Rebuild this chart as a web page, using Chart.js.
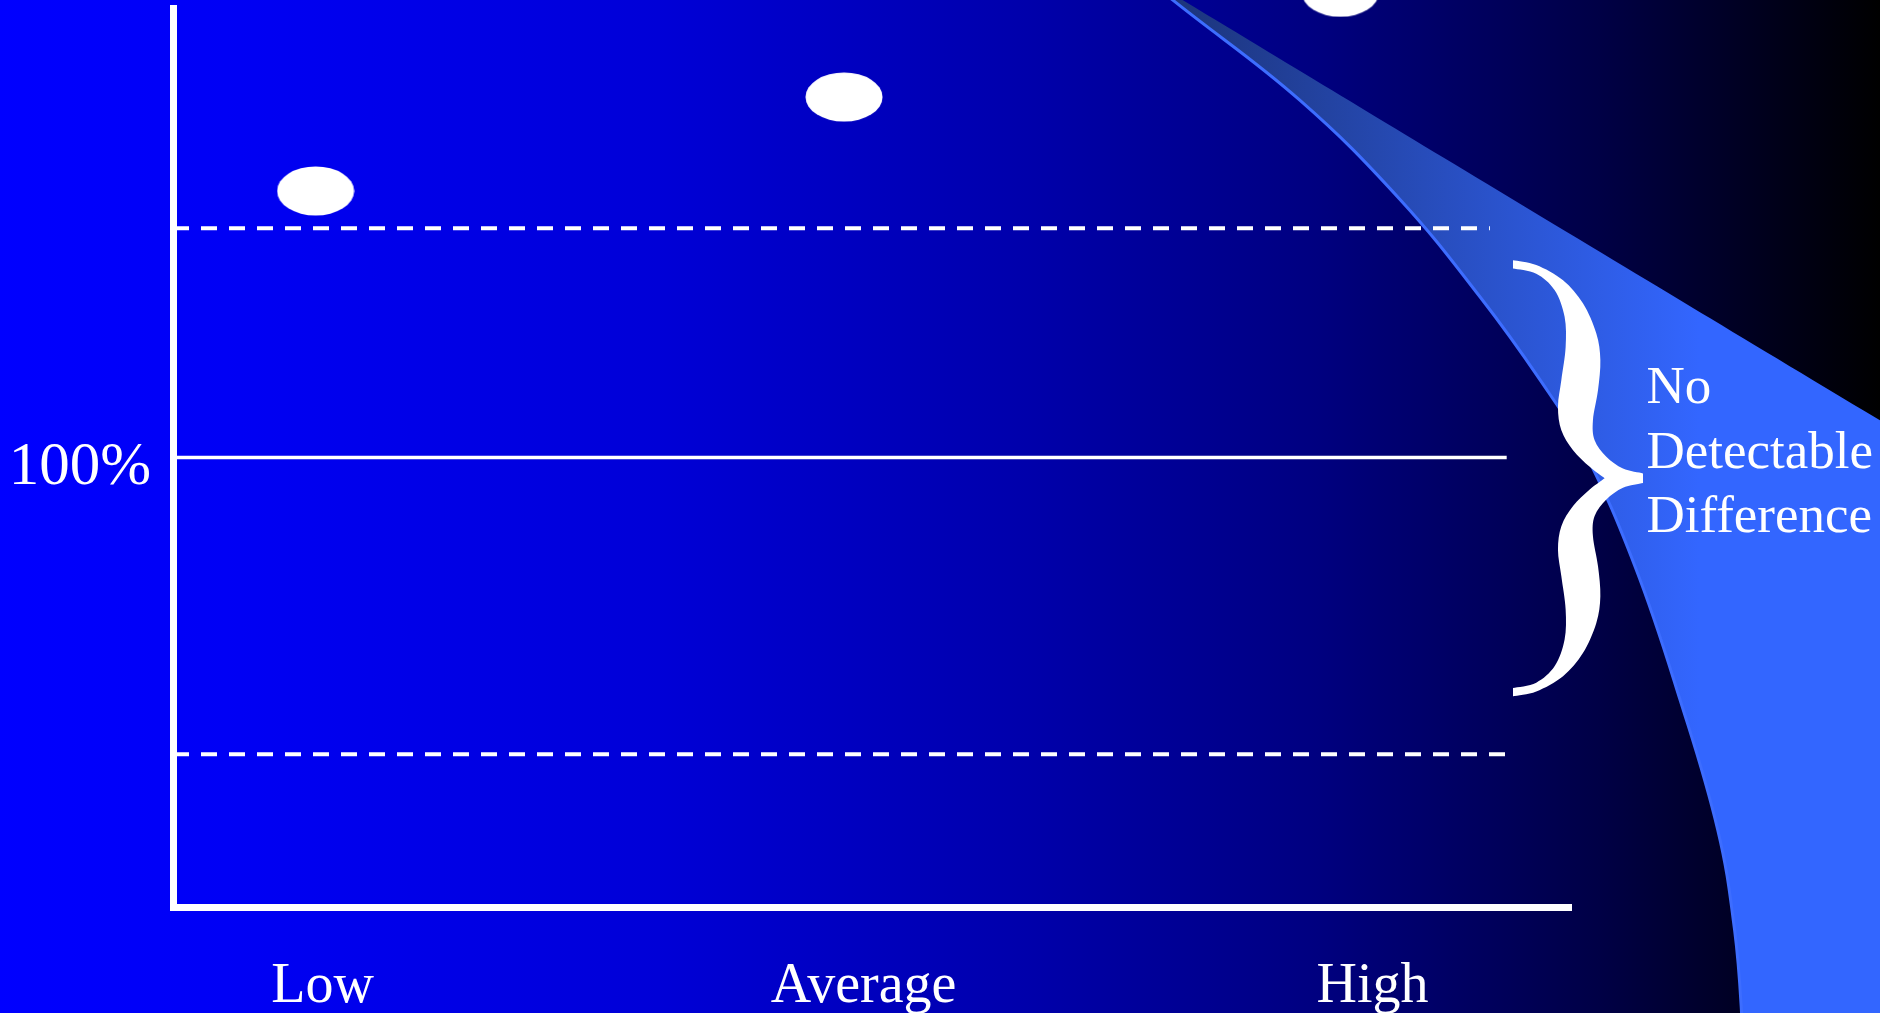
<!DOCTYPE html>
<html>
<head>
<meta charset="utf-8">
<title>No Detectable Difference</title>
<script src="https://cdn.jsdelivr.net/npm/chart.js@4.4.1/dist/chart.umd.min.js"></script>
<style>
  html, body { margin: 0; padding: 0; background: #000; overflow: hidden; }
  #wrap { width: 1880px; height: 1013px; position: relative; }
</style>
</head>
<body>
<div id="wrap"><canvas id="gapChart"></canvas></div>
<script>
const SERIF = '"Liberation Serif", "Times New Roman", serif';

// x axis: categories and where their labels sit
const categories = ['Low', 'Average', 'High'];
const categoryTicks = [1.07, 4.94, 8.58];

// the three scores (white dots)
const scoreX = [1.02, 4.80, 8.35];
const scoreY = [159.3, 180.2, 203.5];

// reference level (100%) and the two dashed limits
const referenceLevel = 100;
const upperLimit = 151;
const lowerLimit = 34;
const upperLimitEnd = 9.42;
const referenceEnd = 9.54;
const lowerLimitEnd = 9.54;

// the light beam: curved left edge, top to bottom ...
const curveX = [6.99, 7.15, 8.06, 8.78, 9.35, 9.78, 10.09, 10.46, 10.78, 11.05, 11.17, 11.22, 11.24];
const curveY = [206.1, 201.8, 179.5, 157.3, 135.7, 117.2, 101.7, 75.6, 46.1, 17.1, -5.1, -23.6, -42.9];
// ... and its straight right edge, bottom-right back to the top
const edgeX = [14.5, 14.5, 13.07, 12.21, 9.49, 7.22];
const edgeY = [-42.9, 65.5, 92.3, 108.3, 159.2, 201.8];

// brace + note
const braceX = [9.585, 10.515];
const braceY = [143.9, 46.9];
const noteX = 10.54;
const noteLines = ['No', 'Detectable', 'Difference'];
const noteY = [112.1, 97.6, 83.5];

// outline of the upper half of the brace, in its own 0..1 box
const braceRight = [[0, 0], [0.179, 0.011], [0.385, 0.046], [0.538, 0.099], [0.641, 0.168], [0.672, 0.229],
    [0.654, 0.298], [0.615, 0.367], [0.628, 0.413], [0.718, 0.451], [0.846, 0.478], [1, 0.489]];
const braceLeft = [[0, 0.019], [0.179, 0.031], [0.321, 0.069], [0.397, 0.130], [0.405, 0.199], [0.372, 0.275],
    [0.346, 0.336], [0.372, 0.390], [0.462, 0.436], [0.590, 0.474], [0.705, 0.5]];

const toPoints = (xs, ys) => xs.map((x, i) => ({ x: x, y: ys[i] }));

const beamPoints = toPoints(curveX, curveY).concat(toPoints(edgeX, edgeY));
const curvePoints = toPoints(curveX, curveY).reverse();

function ellipseDot(w, h) {
    const c = document.createElement('canvas');
    c.width = w;
    c.height = h;
    const g = c.getContext('2d');
    g.fillStyle = '#ffffff';
    g.beginPath();
    g.ellipse(w / 2, h / 2, w / 2 - 0.5, h / 2 - 0.5, 0, 0, Math.PI * 2);
    g.fill();
    return c;
}

function beamFill(context) {
    const chart = context.chart;
    const x = chart.scales.x;
    if (!chart.chartArea || !x) return '#3366ff';
    const g = chart.ctx.createLinearGradient(x.getPixelForValue(7.13), 0, x.getPixelForValue(10.92), 0);
    g.addColorStop(0, 'rgb(28,52,122)');
    g.addColorStop(1, 'rgb(51,102,255)');
    return g;
}

function hLine(level, end) {
    return [{ x: 0, y: level }, { x: end, y: level }];
}

// smooth run through a list of points (catmull-rom as beziers)
function smoothRun(ctx, pts) {
    for (let i = 0; i < pts.length - 1; i++) {
        const p0 = pts[Math.max(i - 1, 0)], p1 = pts[i], p2 = pts[i + 1], p3 = pts[Math.min(i + 2, pts.length - 1)];
        ctx.bezierCurveTo(
            p1[0] + (p2[0] - p0[0]) / 6, p1[1] + (p2[1] - p0[1]) / 6,
            p2[0] - (p3[0] - p1[0]) / 6, p2[1] - (p3[1] - p1[1]) / 6,
            p2[0], p2[1]);
    }
}

function drawBrace(ctx, x0, y0, x1, y1) {
    const map = (p) => [x0 + p[0] * (x1 - x0), y0 + p[1] * (y1 - y0)];
    const flip = (p) => [p[0], 1 - p[1]];
    const rightTop = braceRight.map(map);
    const rightBottom = braceRight.map(flip).reverse().map(map);
    const leftBottom = braceLeft.map(flip).map(map);
    const leftTop = braceLeft.slice().reverse().map(map);
    ctx.beginPath();
    ctx.moveTo(rightTop[0][0], rightTop[0][1]);
    smoothRun(ctx, rightTop);
    ctx.lineTo(rightBottom[0][0], rightBottom[0][1]);
    smoothRun(ctx, rightBottom);
    ctx.lineTo(leftBottom[0][0], leftBottom[0][1]);
    smoothRun(ctx, leftBottom);
    smoothRun(ctx, leftTop);
    ctx.closePath();
    ctx.fill();
}

// slide background, unclipped beam and the text annotations
const slidePlugin = {
    id: 'slide',
    beforeDraw(chart) {
        const { ctx, width, height } = chart;
        const g = ctx.createLinearGradient(0, 0, width, 0);
        g.addColorStop(0, 'rgb(0,0,255)');
        g.addColorStop(0.12, 'rgb(0,0,245)');
        g.addColorStop(0.35, 'rgb(0,0,215)');
        g.addColorStop(0.55, 'rgb(0,0,170)');
        g.addColorStop(0.7, 'rgb(0,0,128)');
        g.addColorStop(0.85, 'rgb(0,0,70)');
        g.addColorStop(1, 'rgb(0,0,0)');
        ctx.save();
        ctx.fillStyle = g;
        ctx.fillRect(0, 0, width, height);
        ctx.restore();
    },
    beforeDatasetsDraw(chart) {
        // the beam runs off the plot area, so let it fill the whole canvas
        chart.$realArea = chart.chartArea;
        chart.chartArea = { left: -300, top: -300, right: chart.width + 300, bottom: chart.height + 300,
                            width: chart.width + 600, height: chart.height + 600 };
    },
    afterDatasetsDraw(chart) {
        chart.chartArea = chart.$realArea;
    },
    afterDraw(chart) {
        const { ctx, scales: { x, y } } = chart;
        ctx.save();
        ctx.fillStyle = '#ffffff';
        drawBrace(ctx, x.getPixelForValue(braceX[0]), y.getPixelForValue(braceY[0]),
                  x.getPixelForValue(braceX[1]), y.getPixelForValue(braceY[1]));

        ctx.font = '53px ' + SERIF;
        ctx.textAlign = 'left';
        ctx.textBaseline = 'alphabetic';
        noteLines.forEach((t, i) => {
            ctx.fillText(t, x.getPixelForValue(noteX), y.getPixelForValue(noteY[i]));
        });
        ctx.restore();
    }
};

const gapChart = new Chart(document.getElementById('gapChart'), {
    type: 'line',
    data: {
        datasets: [
            {
                label: 'Scores',
                data: toPoints(scoreX, scoreY),
                showLine: false,
                pointStyle: ellipseDot(78, 50),
                pointRadius: 5,
                clip: false,
                order: 1
            },
            {
                label: 'Upper limit',
                data: hLine(upperLimit, upperLimitEnd),
                borderColor: '#ffffff',
                borderWidth: 4,
                borderDash: [16, 12],
                pointRadius: 0,
                clip: false,
                order: 2
            },
            {
                label: '100%',
                data: hLine(referenceLevel, referenceEnd),
                borderColor: '#ffffff',
                borderWidth: 3.5,
                pointRadius: 0,
                clip: false,
                order: 3
            },
            {
                label: 'Lower limit',
                data: hLine(lowerLimit, lowerLimitEnd),
                borderColor: '#ffffff',
                borderWidth: 4,
                borderDash: [16, 12],
                pointRadius: 0,
                clip: false,
                order: 4
            },
            {
                label: 'Beam edge',
                data: curvePoints,
                borderColor: '#3d6dff',
                borderWidth: 3,
                tension: 0.4,
                capBezierPoints: false,
                pointRadius: 0,
                fill: false,
                clip: false,
                order: 8
            },
            {
                label: 'Beam',
                data: beamPoints,
                borderWidth: 0,
                borderColor: 'rgba(0,0,0,0)',
                backgroundColor: beamFill,
                tension: 0.4,
                capBezierPoints: false,
                pointRadius: 0,
                fill: 'shape',
                clip: false,
                order: 9
            }
        ]
    },
    options: {
        responsive: true,
        maintainAspectRatio: false,
        animation: false,
        events: [],
        layout: { autoPadding: false, padding: { top: 8, right: 309, left: 0, bottom: 0 } },
        plugins: {
            legend: { display: false },
            tooltip: { enabled: false }
        },
        scales: {
            x: {
                type: 'linear',
                min: 0,
                max: 10,
                grid: { display: false, drawTicks: false },
                border: { color: '#ffffff', width: 7 },
                afterBuildTicks: (scale) => {
                    scale.ticks = categoryTicks.map(v => ({ value: v }));
                },
                afterFit: (scale) => {
                    scale.height = 106;
                    scale.paddingLeft = 0;
                    scale.paddingRight = 0;
                },
                ticks: {
                    color: '#ffffff',
                    font: { family: SERIF, size: 56 },
                    padding: 47,
                    autoSkip: false,
                    maxRotation: 0,
                    callback: (value, i) => categories[i]
                }
            },
            y: {
                type: 'linear',
                min: 0,
                max: 200,
                grid: { display: false, drawTicks: false },
                border: { color: '#ffffff', width: 7 },
                afterBuildTicks: (scale) => {
                    scale.ticks = [{ value: referenceLevel }];
                },
                afterFit: (scale) => {
                    scale.width = 173;
                    scale.paddingTop = 0;
                    scale.paddingBottom = 0;
                },
                ticks: {
                    color: '#ffffff',
                    font: { family: SERIF, size: 61 },
                    padding: 22,
                    labelOffset: 10,
                    callback: () => '100%'
                }
            }
        }
    },
    plugins: [slidePlugin]
});
</script>
</body>
</html>
